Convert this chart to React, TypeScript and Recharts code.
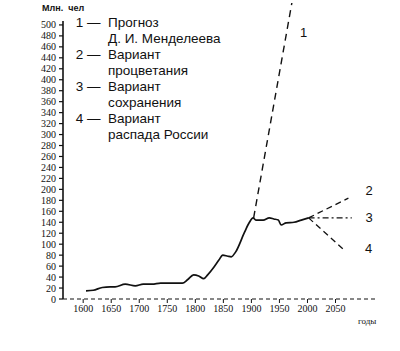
import React from "react";
import { LineChart, Line, XAxis, YAxis, ReferenceDot, ReferenceLine } from "recharts";

const historyYears = [1605, 1618, 1634, 1648, 1657, 1675, 1693, 1707, 1723, 1738, 1756, 1777, 1786, 1797, 1806, 1815, 1822, 1833, 1842, 1849, 1858, 1864, 1872, 1887, 1896, 1903, 1908, 1921, 1932, 1940, 1948, 1953, 1962, 1976, 1989, 2002];
const historyValues = [15, 16, 21, 22, 22, 27, 24, 27, 27, 29, 29, 29, 35, 44, 42, 37, 44, 58, 71, 80, 78, 77, 86, 120, 139, 148, 144, 144, 148, 146, 144, 135, 139, 140, 144, 148];

const mendeleevYears = [1904, 1973];
const mendeleevValues = [148, 545];
const prosperityYears = [2002, 2073];
const prosperityValues = [148, 184];
const preservationYears = [2002, 2079];
const preservationValues = [148, 148];
const collapseYears = [2002, 2066];
const collapseValues = [148, 89];

const xTicks = [1600, 1650, 1700, 1750, 1800, 1850, 1900, 1950, 2000, 2050];
const yTicks = [0, 20, 40, 60, 80, 100, 120, 140, 160, 180, 200, 220, 240, 260, 280, 300, 320, 340, 360, 380, 400, 420, 440, 460, 480, 500];

const legendItems = [
  { num: "1", line1: "Прогноз", line2: "Д. И. Менделеева" },
  { num: "2", line1: "Вариант", line2: "процветания" },
  { num: "3", line1: "Вариант", line2: "сохранения" },
  { num: "4", line1: "Вариант", line2: "распада России" },
];

const zip = (xs: number[], ys: number[]) => xs.map((x, i) => ({ year: x, v: ys[i] }));

const history = zip(historyYears, historyValues);
const mendeleev = zip(mendeleevYears, mendeleevValues);
const prosperity = zip(prosperityYears, prosperityValues);
const preservation = zip(preservationYears, preservationValues);
const collapse = zip(collapseYears, collapseValues);

const sans = "'Liberation Sans', Arial, sans-serif";
const serif = "'Liberation Serif', 'Times New Roman', serif";

const X_MIN = 1564;

const numLabel = (text: string) => ({
  value: text,
  position: "center" as const,
  fill: "#111",
  fontSize: 13,
  fontFamily: sans,
});

export default function App() {
  return (
    <div style={{ position: "absolute", left: 0, top: 0, width: 400, height: 351, background: "#fff" }}>
      <LineChart
        width={400}
        height={351}
        margin={{ top: 3, right: 23, bottom: 0, left: 0 }}
      >
        <XAxis
          dataKey="year"
          type="number"
          domain={[X_MIN, 2124]}
          ticks={xTicks}
          allowDataOverflow
          height={52}
          axisLine={{ stroke: "#111", strokeDasharray: "4 3", strokeWidth: 1.2 }}
          tickLine={{ stroke: "#111" }}
          tickSize={4}
          tickMargin={2}
          tick={{ fill: "#111", fontSize: 10, fontFamily: serif }}
        />
        <YAxis
          type="number"
          domain={[0, 540]}
          ticks={yTicks}
          allowDataOverflow
          width={63}
          interval={0}
          axisLine={false}
          tickLine={{ stroke: "#111", strokeWidth: 1.2 }}
          tickSize={4}
          tickMargin={3}
          tick={{ fill: "#111", fontSize: 10, fontFamily: serif }}
        />
        <ReferenceLine segment={[{ x: X_MIN, y: 0 }, { x: X_MIN, y: 507 }]} stroke="#111" strokeWidth={1.6} ifOverflow="visible" />
        <Line data={history} dataKey="v" type="monotone" stroke="#111" strokeWidth={1.7} dot={false} isAnimationActive={false} />
        <Line data={mendeleev} dataKey="v" type="linear" stroke="#111" strokeWidth={1.4} strokeDasharray="7 5" dot={false} isAnimationActive={false} />
        <Line data={prosperity} dataKey="v" type="linear" stroke="#111" strokeWidth={1.3} strokeDasharray="6 4" dot={false} isAnimationActive={false} />
        <Line data={preservation} dataKey="v" type="linear" stroke="#111" strokeWidth={1.3} strokeDasharray="6 3 2 3" dot={false} isAnimationActive={false} />
        <Line data={collapse} dataKey="v" type="linear" stroke="#111" strokeWidth={1.3} strokeDasharray="6 4" dot={false} isAnimationActive={false} />
        <ReferenceDot x={1993} y={487} r={0} ifOverflow="visible" label={numLabel("1")} />
        <ReferenceDot x={2110} y={199} r={0} ifOverflow="visible" label={numLabel("2")} />
        <ReferenceDot x={2110} y={148} r={0} ifOverflow="visible" label={numLabel("3")} />
        <ReferenceDot x={2109} y={93} r={0} ifOverflow="visible" label={numLabel("4")} />
      </LineChart>
      <div style={{ position: "absolute", left: 42, top: 3, fontFamily: sans, fontSize: 9, fontWeight: "bold", color: "#111", whiteSpace: "pre" }}>
        {"Млн.  чел"}
      </div>
      <div style={{ position: "absolute", left: 358, top: 316, fontFamily: serif, fontSize: 9, color: "#111" }}>годы</div>
      {legendItems.map((it, i) => (
        <div key={it.num} style={{ position: "absolute", left: 72, top: 15 + i * 32, fontFamily: sans, fontSize: 13.5, color: "#111", lineHeight: "16px" }}>
          <div style={{ display: "flex" }}>
            <span style={{ width: 36, whiteSpace: "pre" }}>{" " + it.num + " —"}</span>
            <span>{it.line1}</span>
          </div>
          <div style={{ paddingLeft: 36 }}>{it.line2}</div>
        </div>
      ))}
    </div>
  );
}
